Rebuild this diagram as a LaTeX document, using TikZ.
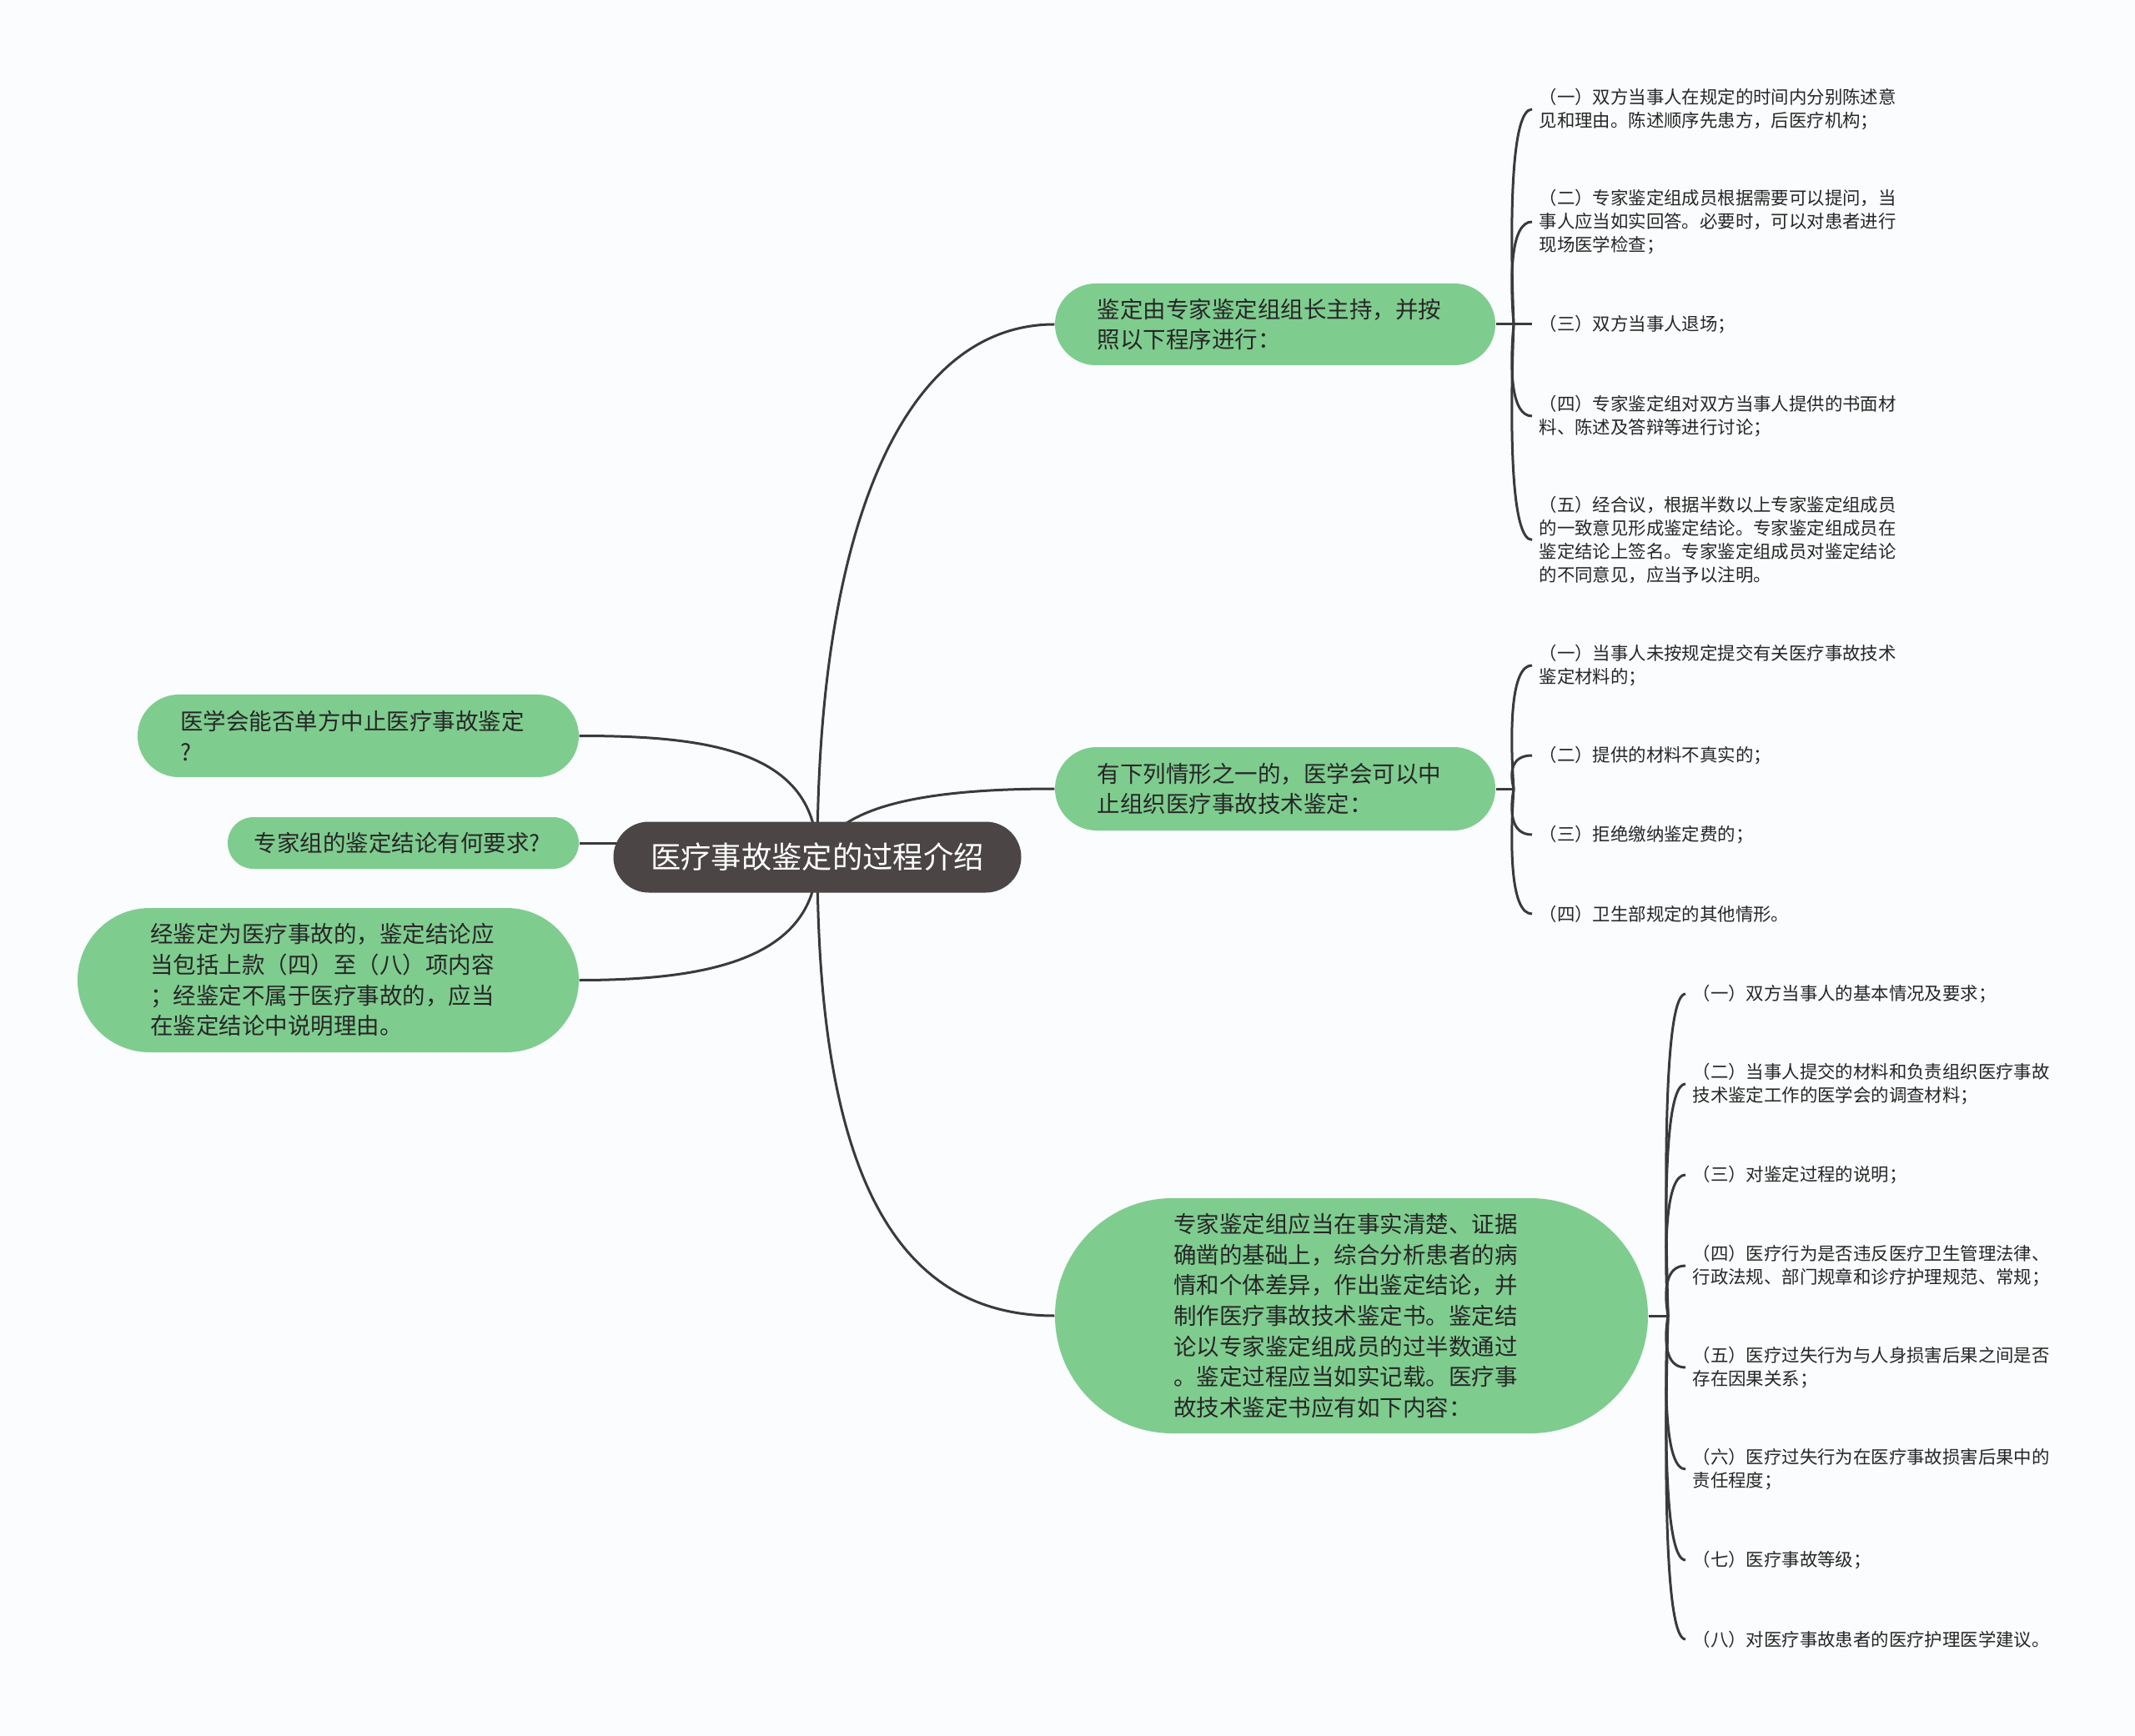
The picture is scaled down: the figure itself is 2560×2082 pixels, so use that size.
\documentclass[tikz,border=0pt]{standalone}
\usepackage{fontspec}
\setmainfont{Noto Sans CJK SC}
\usetikzlibrary{shapes.misc}
\definecolor{bgc}{HTML}{FAFCFD}
\definecolor{gfill}{HTML}{7FCC8F}
\definecolor{rootfill}{HTML}{4B4546}
\definecolor{linec}{HTML}{3A3A3A}
\definecolor{txt}{HTML}{262626}
\newcommand\padr{\hspace*{4.2pt}}
\pgfdeclarelayer{back}
\pgfdeclarelayer{edges}
\pgfsetlayers{back,edges,main}
\begin{document}
\begin{tikzpicture}[x=0.3pt,y=-0.3pt,
  conn/.style={draw=linec,line width=0.9pt},
  topic/.style={rounded rectangle, fill=gfill, text=txt, align=left, inner sep=0pt,
    font=\fontsize{8.25pt}{11pt}\selectfont},
  rootbox/.style={rounded rectangle, fill=rootfill, text=white, inner sep=0pt,
    font=\fontsize{10.9pt}{13pt}\selectfont},
  leaf/.style={anchor=west, align=left, inner sep=0pt, inner xsep=2.4pt, text=txt,
    font=\fontsize{6.42pt}{8.34pt}\selectfont},
]
\begin{pgfonlayer}{back}
\fill[bgc] (0,0) rectangle (2560,2082);
\end{pgfonlayer}
\useasboundingbox (0,0) rectangle (2560,2082);

% root
\node[rootbox, minimum width=146.7pt, minimum height=25.5pt] (root) at (980,1028) {医疗事故鉴定的过程介绍};

% left topics
\node[topic, minimum width=158.7pt, minimum height=29.7pt] (L1) at (429.5,882.5) {医学会能否单方中止医疗事故鉴定\padr\\?};
\node[topic, minimum width=126.3pt, minimum height=18.6pt] (L2) at (483.5,1011) {专家组的鉴定结论有何要求?\padr};
\node[topic, minimum width=180.3pt, minimum height=51.9pt] (L3) at (393.5,1175.5) {经鉴定为医疗事故的，鉴定结论应\padr\\当包括上款（四）至（八）项内容\\；经鉴定不属于医疗事故的，应当\\在鉴定结论中说明理由。};

% right topics
\node[topic, minimum width=158.4pt, minimum height=29.4pt] (A) at (1529,389) {鉴定由专家鉴定组组长主持，并按\padr\\照以下程序进行：};
\node[topic, minimum width=158.4pt, minimum height=30pt] (B) at (1529,946) {有下列情形之一的，医学会可以中\padr\\止组织医疗事故技术鉴定：};
\node[topic, minimum width=213.3pt, minimum height=84.6pt] (C) at (1620.5,1578) {专家鉴定组应当在事实清楚、证据\padr\\确凿的基础上，综合分析患者的病\\情和个体差异，作出鉴定结论，并\\制作医疗事故技术鉴定书。鉴定结\\论以专家鉴定组成员的过半数通过\\。鉴定过程应当如实记载。医疗事\\故技术鉴定书应有如下内容：};

% leaves of A
\node[leaf] (a1) at (1837,131) {（一）双方当事人在规定的时间内分别陈述意\\见和理由。陈述顺序先患方，后医疗机构；};
\node[leaf] (a2) at (1837,266) {（二）专家鉴定组成员根据需要可以提问，当\\事人应当如实回答。必要时，可以对患者进行\\现场医学检查；};
\node[leaf] (a3) at (1837,389) {（三）双方当事人退场；};
\node[leaf] (a4) at (1837,499) {（四）专家鉴定组对双方当事人提供的书面材\\料、陈述及答辩等进行讨论；};
\node[leaf] (a5) at (1837,647.5) {（五）经合议，根据半数以上专家鉴定组成员\\的一致意见形成鉴定结论。专家鉴定组成员在\\鉴定结论上签名。专家鉴定组成员对鉴定结论\\的不同意见，应当予以注明。};

% leaves of B
\node[leaf] (b1) at (1837,798) {（一）当事人未按规定提交有关医疗事故技术\\鉴定材料的；};
\node[leaf] (b2) at (1837,906) {（二）提供的材料不真实的；};
\node[leaf] (b3) at (1837,1001) {（三）拒绝缴纳鉴定费的；};
\node[leaf] (b4) at (1837,1096) {（四）卫生部规定的其他情形。};

% leaves of C
\node[leaf] (c1) at (2021,1192) {（一）双方当事人的基本情况及要求；};
\node[leaf] (c2) at (2021,1300) {（二）当事人提交的材料和负责组织医疗事故\\技术鉴定工作的医学会的调查材料；};
\node[leaf] (c3) at (2021,1409) {（三）对鉴定过程的说明；};
\node[leaf] (c4) at (2021,1518) {（四）医疗行为是否违反医疗卫生管理法律、\\行政法规、部门规章和诊疗护理规范、常规；};
\node[leaf] (c5) at (2021,1640) {（五）医疗过失行为与人身损害后果之间是否\\存在因果关系；};
\node[leaf] (c6) at (2021,1762) {（六）医疗过失行为在医疗事故损害后果中的\\责任程度；};
\node[leaf] (c7) at (2021,1871) {（七）医疗事故等级；};
\node[leaf] (c8) at (2021,1966) {（八）对医疗事故患者的医疗护理医学建议。};

\coordinate (jA) at (1815,389);
\coordinate (jB) at (1815,946);
\coordinate (jC) at (2000,1578);

\begin{pgfonlayer}{edges}
% root connectors
\draw[conn] (root.center) .. controls (980,640) and (1080,389) .. (A.west);
\draw[conn] (root.center) .. controls (1000,975) and (1080,946) .. (B.west);
\draw[conn] (root.center) .. controls (980,1380) and (1060,1578) .. (C.west);
\draw[conn] (root.center) .. controls (980,900) and (850,882.5) .. (L1.east);
\draw[conn] (root.center) .. controls (980,1150) and (850,1175.5) .. (L3.east);
\draw[conn] (L2.east) -- (L2.east -| root.center);

% A brackets
\draw[conn] (A.east) -- (jA);
\draw[conn] (jA) .. controls (1810,260) and (1812,131) .. (a1.west);
\draw[conn] (jA) .. controls (1810,328) and (1812,266) .. (a2.west);
\draw[conn] (jA) -- (a3.west);
\draw[conn] (jA) .. controls (1810,444) and (1812,499) .. (a4.west);
\draw[conn] (jA) .. controls (1810,518) and (1812,647.5) .. (a5.west);

% B brackets
\draw[conn] (B.east) -- (jB);
\draw[conn] (jB) .. controls (1810,872) and (1812,798) .. (b1.west);
\draw[conn] (jB) .. controls (1810,926) and (1812,906) .. (b2.west);
\draw[conn] (jB) .. controls (1810,974) and (1812,1001) .. (b3.west);
\draw[conn] (jB) .. controls (1810,1021) and (1812,1096) .. (b4.west);

% C brackets
\draw[conn] (C.east) -- (jC);
\draw[conn] (jC) .. controls (1995,1385) and (1997,1192) .. (c1.west);
\draw[conn] (jC) .. controls (1995,1439) and (1997,1300) .. (c2.west);
\draw[conn] (jC) .. controls (1995,1494) and (1997,1409) .. (c3.west);
\draw[conn] (jC) .. controls (1995,1548) and (1997,1518) .. (c4.west);
\draw[conn] (jC) .. controls (1995,1609) and (1997,1640) .. (c5.west);
\draw[conn] (jC) .. controls (1995,1670) and (1997,1762) .. (c6.west);
\draw[conn] (jC) .. controls (1995,1725) and (1997,1871) .. (c7.west);
\draw[conn] (jC) .. controls (1995,1772) and (1997,1966) .. (c8.west);
\end{pgfonlayer}
\end{tikzpicture}
\end{document}
